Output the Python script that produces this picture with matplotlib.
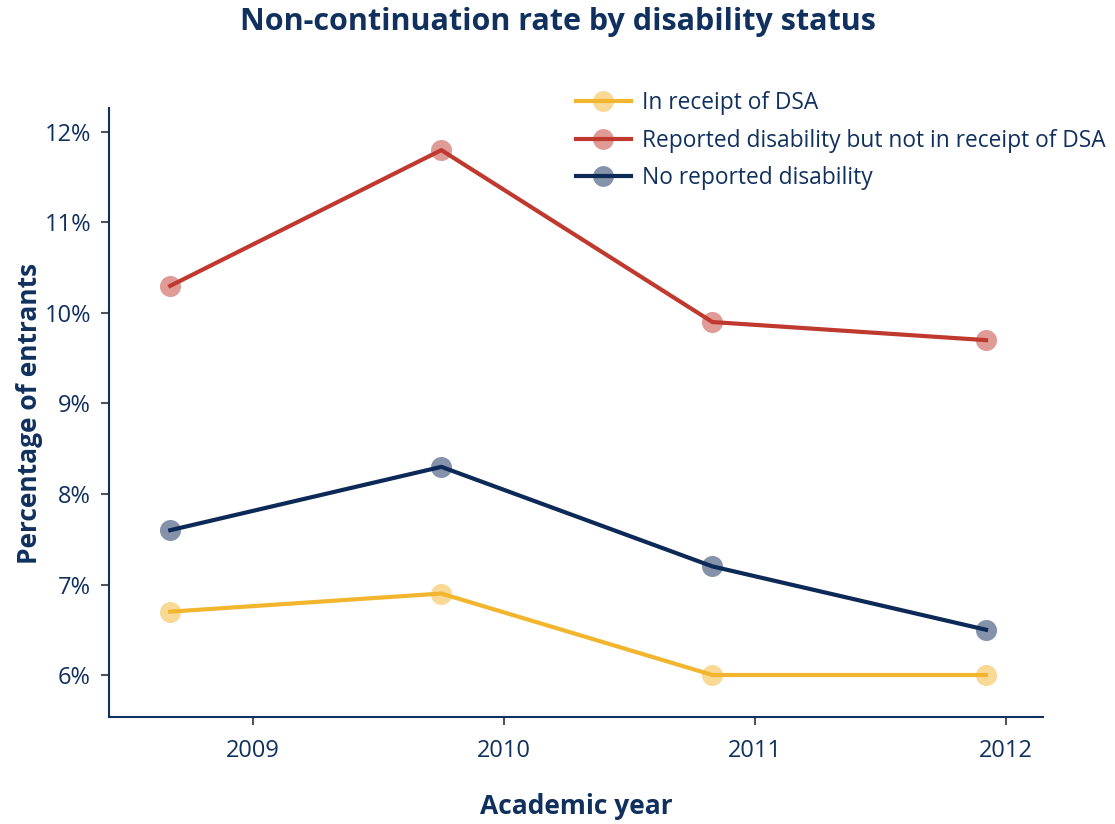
import matplotlib.pyplot as plt
from matplotlib.lines import Line2D
from matplotlib.ticker import FuncFormatter

plt.rcParams['font.family'] = ['Open Sans', 'DejaVu Sans']

# academic year positions (decimal years) and non-continuation rates (%)
years = [2008.67, 2009.75, 2010.83, 2011.92]
dsa = [6.7, 6.9, 6.0, 6.0]
reported_no_dsa = [10.3, 11.8, 9.9, 9.7]
no_disability = [7.6, 8.3, 7.2, 6.5]

labels = ['In receipt of DSA',
          'Reported disability but not in receipt of DSA',
          'No reported disability']
colors = ['#f2b52e', '#c0392f', '#0c2957']
series = [dsa, reported_no_dsa, no_disability]

text_col = '#10305e'

fig = plt.figure(figsize=(11.15, 8.24), dpi=100)
ax = fig.add_axes([109 / 1115, 1 - 717 / 824, (1043 - 109) / 1115, (717 - 108) / 824])

for vals, c in zip(series, colors):
    ax.scatter(years, vals, s=230, color=c, alpha=0.5, lw=0, zorder=2)
    ax.plot(years, vals, color=c, lw=3, zorder=3)

ax.set_xlim(2008.426, 2012.147)
ax.set_ylim(5.536, 12.265)
ax.set_xticks([2009, 2010, 2011, 2012])
ax.set_yticks([6, 7, 8, 9, 10, 11, 12])
ax.yaxis.set_major_formatter(FuncFormatter(lambda v, p: f'{v:.0f}%'))
ax.tick_params(colors='#555555', labelcolor=text_col, labelsize=17, length=6, width=1.5, pad=7)
ax.tick_params(axis='x', pad=10)

for s in ['top', 'right']:
    ax.spines[s].set_visible(False)
for s in ['left', 'bottom']:
    ax.spines[s].set_color(text_col)
    ax.spines[s].set_linewidth(1.5)

ax.set_xlabel('Academic year', fontsize=19, fontweight='bold', color=text_col)
ax.set_ylabel('Percentage of entrants', fontsize=19, fontweight='bold', color=text_col)
ax.xaxis.set_label_coords(0.5, (717 - 806) / 609, transform=ax.transAxes)
ax.xaxis.label.set_va('center')
ax.yaxis.set_label_coords((30 - 109) / 934, (717 - 413) / 609, transform=ax.transAxes)
ax.yaxis.label.set_va('center')

fig.text(0.5, 1 - 22 / 824, 'Non-continuation rate by disability status', ha='center', va='center',
         fontsize=22, fontweight='bold', color=text_col)

handles = [Line2D([], [], color=c, lw=3, marker='o', markersize=15,
                  markerfacecolor=c + '80', markeredgewidth=0) for c in colors]
fig.legend(handles, labels, loc='upper left', bbox_to_anchor=(567 / 1115, 1 - 82 / 824),
           frameon=False, fontsize=16.4, labelcolor=text_col, handlelength=2.4,
           handletextpad=0.5, labelspacing=0.6, borderaxespad=0)

fig.savefig('out.png', dpi=100)
